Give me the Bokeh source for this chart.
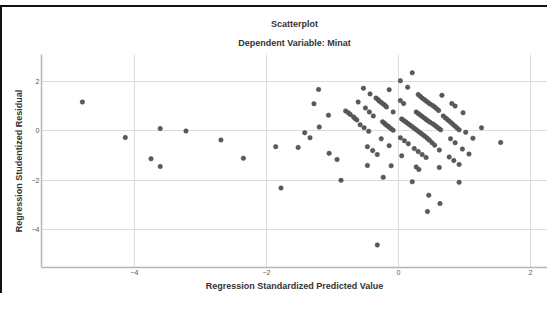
from bokeh.plotting import figure
from bokeh.models import Title, FixedTicker, Range1d
from bokeh.embed import file_html
from bokeh.resources import INLINE

# Regression Standardized Predicted Value (x) and Studentized Residual (y)
x_pred = [
    -4.79, -4.14, -3.75, -3.61, -3.61, -3.22, -2.69, -2.35, -1.86, -1.78,
    -1.52, -1.42, -1.34, -1.28, -1.21, -1.20, -1.06, -1.05, -0.93, -0.87,
    -0.80, -0.76, -0.73, -0.68, -0.66, -0.63, -0.61, -0.58, -0.52, -0.45,
    -0.53, -0.43, -0.50, -0.44, -0.38, -0.47, -0.39, -0.32, -0.47,
    -0.34, -0.31, -0.29, -0.26, -0.23, -0.20, -0.18,
    -0.26, -0.14, -0.23, -0.14,
    -0.24, -0.21, -0.19, -0.16, -0.14, -0.11, -0.08,
    -0.08, -0.11, 0.03, 0.14, 0.21, 0.03, 0.08,
    0.05, 0.08, 0.11, 0.14, 0.17, 0.20, 0.23, 0.26, 0.29, 0.32, 0.35, 0.38,
    0.41, 0.44, 0.47, 0.51, 0.55, 0.62,
    0.05, 0.03, 0.09, 0.15, 0.24, 0.30, 0.36, 0.42, 0.27, 0.31, 0.21,
    0.30, 0.33, 0.36, 0.39, 0.42, 0.45, 0.48, 0.52, 0.55, 0.58, 0.61,
    0.27, 0.30, 0.33, 0.36, 0.39, 0.42, 0.45, 0.48, 0.52, 0.55, 0.58, 0.61, 0.64,
    0.66, 0.81, 0.86, 0.98,
    0.68, 0.71, 0.74, 0.77, 0.80, 0.83, 0.86, 0.89, 0.92,
    1.26, 1.02, 1.13, 1.55,
    0.79, 0.86, 0.97, 1.07, 0.77, 0.84, 0.92, 0.62, 0.92, 0.46, 0.63, 0.44,
    -0.32,
]
y_resid = [
    1.16, -0.27, -1.13, 0.09, -1.44, -0.01, -0.37, -1.11, -0.64, -2.31,
    -0.67, -0.08, -0.28, 1.09, 1.67, 0.15, 0.63, -0.91, -1.16, -2.00,
    0.80, 0.73, 0.66, 0.56, 0.50, 0.44, 1.16, 0.24, 0.12, -0.02,
    1.72, 1.49, 0.92, 0.76, 0.60, -0.64, -0.80, -0.96, -1.40,
    1.32, 1.26, 1.20, 1.14, 1.08, 1.02, 0.96,
    -0.32, -0.60, -1.88, 1.66,
    0.36, 0.30, 0.24, 0.19, 0.14, 0.08, 0.02,
    0.76, -1.41, 2.02, 1.76, 2.34, 1.22, 1.10,
    0.48, 0.42, 0.36, 0.30, 0.24, 0.18, 0.12, 0.06, 0.00, -0.06, -0.12, -0.18,
    -0.24, -0.31, -0.38, -0.48, -0.58, -0.78,
    -1.01, -0.28, -0.40, -0.52, -0.72, -0.84, -0.96, -1.08, -1.46, -1.56, -2.06,
    1.46, 1.39, 1.32, 1.26, 1.20, 1.14, 1.08, 1.02, 0.96, 0.89, 0.82,
    0.76, 0.70, 0.64, 0.58, 0.52, 0.46, 0.40, 0.34, 0.28, 0.22, 0.16, 0.10, 0.04,
    1.43, 1.10, 1.00, 0.73,
    0.60, 0.53, 0.46, 0.39, 0.32, 0.25, 0.18, 0.11, 0.04,
    0.12, -0.06, -0.30, -0.47,
    -0.32, -0.48, -0.74, -0.94, -1.06, -1.20, -1.36, -1.48, -2.08, -2.60, -2.94, -3.26,
    -4.61,
]
x_ticks = [-4, -2, 0, 2]
y_ticks = [-4, -2, 0, 2]
title_main = "Scatterplot"
title_sub = "Dependent Variable: Minat"
x_label = "Regression Standardized Predicted Value"
y_label = "Regression Studentized Residual"

FONT = "Liberation Sans"

# chart frame (left and top edges) painted behind a transparent canvas border
frame_css = ("linear-gradient(#111111, #111111) 0px 5px / 100% 2px no-repeat, "
             "linear-gradient(#111111, #111111) 0px 5px / 2px 100% no-repeat, #ffffff")

p = figure(
    width=547, height=293,
    output_backend="svg", toolbar_location=None, title=None,
    x_range=Range1d(-5.41, 2.26), y_range=Range1d(-5.52, 3.08),
    min_border_left=41, min_border_right=0, min_border_top=54, min_border_bottom=24,
    background_fill_color="white", border_fill_color=None,
    styles={"background": frame_css},
)
p.outline_line_color = None

sub = Title(text=title_sub, align="center", offset=-8, text_font=FONT,
            text_font_size="9px", text_font_style="bold", text_color="#333333",
            standoff=13)
main = Title(text=title_main, align="center", offset=-8, text_font=FONT,
             text_font_size="9px", text_font_style="bold", text_color="#333333",
             standoff=1)
p.add_layout(sub, "above")
p.add_layout(main, "above")

p.scatter(x_pred, y_resid, size=4.5, fill_color="#5a5a5a", line_color="#444444",
          line_width=0.5)

for ax, ticks in ((p.xaxis, x_ticks), (p.yaxis, y_ticks)):
    ax.ticker = FixedTicker(ticks=ticks)
    ax.major_tick_out = 0
    ax.major_tick_in = 0
    ax.minor_tick_out = 0
    ax.minor_tick_in = 0
    ax.axis_line_color = "#b5b5b5"
    ax.axis_line_width = 1.5
    ax.major_label_text_font = FONT
    ax.major_label_text_font_size = "7px"
    ax.major_label_text_color = "#555555"
    ax.major_label_standoff = 2
    ax.axis_label_text_font = FONT
    ax.axis_label_text_font_size = "9px"
    ax.axis_label_text_font_style = "bold"
    ax.axis_label_text_color = "#333333"

p.xaxis.axis_label = x_label
p.yaxis.axis_label = y_label
p.xaxis.axis_label_standoff = 3
p.yaxis.axis_label_standoff = 5

p.xgrid.ticker = FixedTicker(ticks=x_ticks)
p.ygrid.ticker = FixedTicker(ticks=y_ticks)
p.grid.grid_line_color = "#dcdcdc"
p.grid.grid_line_width = 1

open("out.html", "w").write(file_html(p, INLINE))
